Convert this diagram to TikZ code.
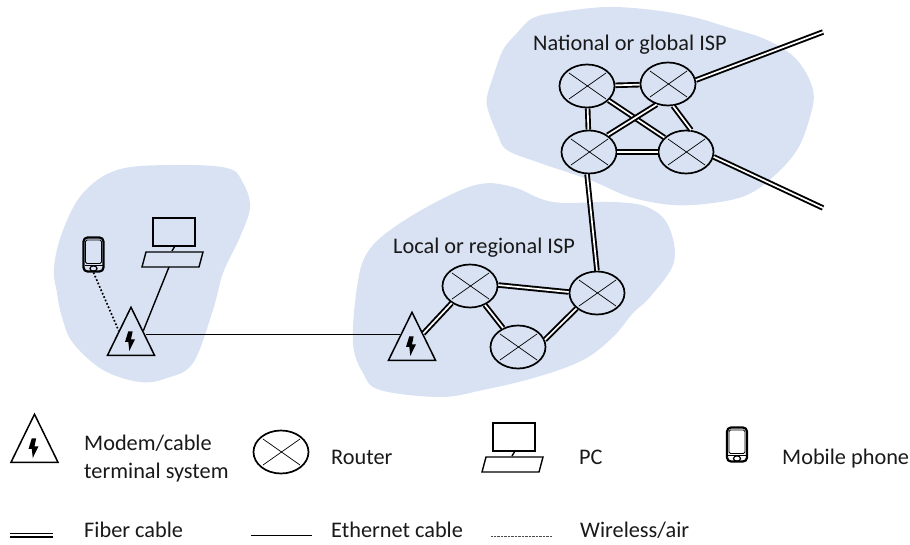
\documentclass[tikz,border=0pt]{standalone}
\usepackage{fontspec}
\setmainfont{Carlito}
\usetikzlibrary{shapes.geometric}
\definecolor{blobblue}{HTML}{D9E2F3}
\tikzset{
  x=1pt,y=-1pt,
  blob/.style={fill=blobblue,draw=none},
  router/.style={ellipse,draw,line width=1.7pt,minimum width=55pt,minimum height=43pt,inner sep=0pt,
    path picture={\draw[line width=0.7pt]
      ([shift={(-18pt,-13pt)}]path picture bounding box.center) -- ([shift={(19pt,13pt)}]path picture bounding box.center)
      ([shift={(-18pt,13pt)}]path picture bounding box.center) -- ([shift={(19pt,-13pt)}]path picture bounding box.center);}},
  modem/.style={isosceles triangle,shape border rotate=90,isosceles triangle stretches,draw,line width=1.5pt,
    minimum width=47pt,minimum height=48pt,inner sep=0pt,anchor=lower side,
    path picture={\fill ([shift={(-2.7pt,0pt)}]path picture bounding box.center)
      -- ++(-3.3pt,-10.7pt) -- ++(3.3pt,0pt) -- ++(1pt,-9pt) -- ++(5.7pt,11.7pt) -- ++(-4pt,0pt) -- ++(1.7pt,8pt) -- cycle;}},
  fiber/.style={double,double distance=1.7pt,line width=1.9pt},
  eth/.style={line width=1pt},
  ethdiag/.style={line width=1.4pt},
  wifi/.style={line width=1.7pt,dotted},
  lbl/.style={anchor=base west,inner sep=0pt,font=\fontsize{22.3}{26}\selectfont,text=black!90},
  pcicon/.pic={
    \draw[line width=1.4pt] (-22,-28) rectangle (20,0);
    \draw[line width=1.4pt] (0,0) -- (-3,5);
    \draw[line width=1.4pt] (-29,6) -- (28,6) -- (24,21) -- (-33,21) -- cycle;
    \coordinate (-base) at (-6,21);
  },
  phoneicon/.pic={
    \draw[line width=2.2pt,rounded corners=4pt] (-10,-17) rectangle (10,17);
    \draw[line width=0.8pt,rounded corners=1.5pt] (-8,-14.5) rectangle (8,9);
    \draw[line width=1.2pt] (-9,11) -- (9,11);
    \draw[line width=1.2pt] (0,14) ellipse (3.5 and 2.7);
    \coordinate (-base) at (0,18);
  }
}
\begin{document}
\begin{tikzpicture}
\useasboundingbox (0,0) rectangle (910,544);
% blobs
\fill[blob] plot[smooth cycle,tension=.6] coordinates {
 (487,97)(493,77)(503,50)(517,33)(533,18)(560,12)(607,7)(653,10)(693,17)(727,27)(767,40)(797,60)(813,90)(810,117)(797,150)(773,177)(747,195)(713,203)(673,205)(630,197)(590,180)(540,163)(507,150)(497,133)(488,110)};
\fill[blob] plot[smooth cycle,tension=.6] coordinates {
 (54,267)(63,230)(83,193)(117,170)(170,165)(227,168)(243,183)(250,207)(240,237)(223,273)(213,310)(193,363)(167,378)(140,382)(103,370)(73,343)(62,317)(57,293)};
\fill[blob] plot[smooth cycle,tension=.6] coordinates {
 (357,287)(367,253)(393,228)(440,200)(480,184)(513,187)(553,202)(613,202)(647,207)(668,225)(674,262)(650,297)(633,313)(613,337)(583,360)(537,377)(483,390)(440,397)(380,390)(363,373)(353,343)};
% nodes
\node[router] (n1) at (587,86) {};
\node[router] (n2) at (668,84) {};
\node[router] (n3) at (589,152) {};
\node[router] (n4) at (686,152) {};
\node[router] (l1) at (470,286) {};
\node[router] (l2) at (597,293) {};
\node[router] (l3) at (518,347) {};
\node[router] (legr) at (281,452) {};
\node[modem] (m1) at (131,356) {};
\node[modem] (m2) at (412,361) {};
\node[modem] (legm) at (34.5,463) {};
\pic (pc1) at (175,246) {pcicon};
\pic (legpc) at (515,451) {pcicon};
\pic (ph1) at (93.5,254.5) {phoneicon};
\pic (legph) at (737,444.5) {phoneicon};
\coordinate (e1) at (823,32);
\coordinate (e2) at (823,208);
\coordinate (m1p) at (146,334.5);
\coordinate (m2p) at (400,334.5);
\coordinate (fa) at (10,535);
\coordinate (fb) at (53,535);
\coordinate (ea) at (251,535.5);
\coordinate (eb) at (312,535.5);
\coordinate (wa) at (491,536);
\coordinate (wb) at (552,536);
% fiber links
\draw[fiber] (n1) -- (n2);
\draw[fiber] (n1) -- (n3);
\draw[fiber] (n1) -- (n4);
\draw[fiber] (n3) -- (n4);
\draw[fiber] (n2.241) -- (n3.42);
\draw[fiber] (n2.283) -- (n4.77);
\draw[fiber] (n2.8) -- (e1);
\draw[fiber] (n4.-10) -- (e2);
\draw[fiber] (n3.-95) -- (l2.90);
\draw[fiber] (l1.2) -- (l2.178);
\draw[fiber] (l1) -- (l3);
\draw[fiber] (l3.15) -- (l2.217);
\draw[fiber] (m2) -- (l1.223);
% ethernet and wireless
\draw[eth] (m1p) -- (m2p);
\draw[ethdiag] (m1.right side) -- (pc1-base);
\draw[wifi] (ph1-base) -- (m1.left side);
% legend lines
\draw[line width=1.7pt,double,double distance=1.6pt] (fa) -- (fb);
\draw[line width=1pt] (ea) -- (eb);
\draw[line width=1pt,black!70,dash pattern=on .7pt off .7pt] (wa) -- (wb);
% labels
\node[lbl] (t1) at (533,50) {National or global ISP};
\node[lbl] (t2) at (393,253) {Local or regional ISP};
\node[lbl] (t3) at (84,450) {Modem/cable};
\node[lbl] (t4) at (84,478) {terminal system};
\node[lbl] (t5) at (331,464) {Router};
\node[lbl] (t6) at (579,464) {PC};
\node[lbl] (t7) at (782,464) {Mobile phone};
\node[lbl] (t8) at (84,537) {Fiber cable};
\node[lbl] (t9) at (331,537) {Ethernet cable};
\node[lbl] (t10) at (580,537) {Wireless/air};
\end{tikzpicture}
\end{document}
